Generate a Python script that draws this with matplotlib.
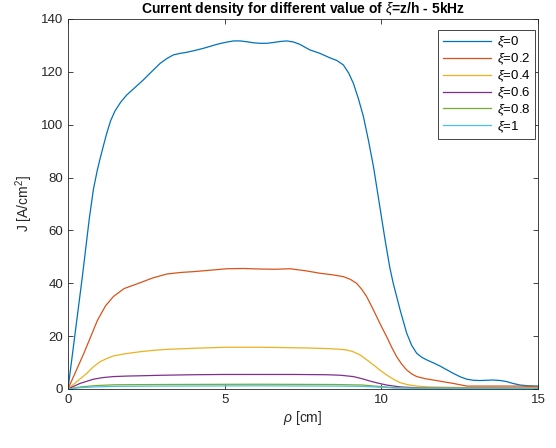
import matplotlib
matplotlib.use("Agg")
import matplotlib.pyplot as plt

plt.rcParams['font.family'] = ['Liberation Sans', 'DejaVu Sans']
plt.rcParams['mathtext.fontset'] = 'custom'
plt.rcParams['mathtext.rm'] = 'Liberation Sans'
plt.rcParams['mathtext.it'] = 'Liberation Sans:italic'

# values
x0 = [0, 0.46, 0.68, 0.81, 0.93, 1.02, 1.13, 1.23, 1.36, 1.5, 1.68, 1.87, 2.15, 2.4,
      2.68, 2.94, 3.15, 3.36, 3.58, 3.79, 4.05, 4.32, 4.55, 4.75, 5.0, 5.28, 5.5, 5.7,
      5.92, 6.13, 6.35, 6.55, 6.78, 6.98, 7.2, 7.4, 7.72, 8.04, 8.36, 8.58, 8.79, 8.96,
      9.11, 9.27, 9.43, 9.59, 9.75, 9.96, 10.12, 10.27, 10.38, 10.6, 10.81, 10.97,
      11.13, 11.29, 11.45, 11.66, 11.87, 12.1, 12.3, 12.52, 12.73, 12.94, 13.15, 13.36,
      13.57, 13.8, 14.0, 14.2, 14.43, 14.7, 15.0]
j0 = [0, 42.7, 64.5, 75.5, 82.5, 87, 92, 96.5, 101.5, 105.2, 108.5, 111.2, 114.2,
      116.9, 120.2, 123.2, 125.0, 126.4, 127.0, 127.4, 128.1, 128.9, 129.7, 130.4,
      131.1, 131.7, 131.7, 131.4, 131.0, 130.8, 130.8, 131.1, 131.5, 131.7, 131.3,
      130.4, 128.3, 127.0, 125.3, 124.3, 122.6, 119.5, 115.6, 109.8, 103.0, 94.0, 84.1,
      68.4, 56.4, 46.0, 40.0, 29.9, 21.1, 16.5, 13.5, 12.0, 11.0, 9.9, 8.7, 7.2, 5.9,
      4.6, 3.7, 3.3, 3.2, 3.3, 3.4, 3.2, 2.8, 2.1, 1.5, 1.2, 1.1]

x2 = [0, 0.51, 0.94, 1.2, 1.45, 1.79, 2.3, 2.7, 3.15, 3.6, 4.0, 4.5, 5.07, 5.6, 6.13,
      6.6, 7.09, 7.6, 8.04, 8.45, 8.79, 9.01, 9.21, 9.37, 9.53, 9.69, 9.85, 10.01,
      10.17, 10.33, 10.49, 10.65, 10.81, 10.97, 11.13, 11.4, 11.66, 12.0, 12.3, 12.73,
      13.57, 14.43, 15.0]
j2 = [0, 13.6, 26, 31.5, 35.0, 38.0, 40.2, 42.0, 43.5, 44.1, 44.4, 44.9, 45.5, 45.6,
      45.4, 45.3, 45.5, 44.7, 43.8, 43.2, 42.5, 41.5, 40.0, 37.8, 35.0, 31.3, 27.4,
      23.5, 19.8, 15.8, 12.2, 9.4, 7.2, 5.7, 4.7, 3.9, 3.4, 2.7, 2.1, 1.1, 1.1, 1.1, 0.9]

x4 = [0, 0.3, 0.6, 0.8, 1.02, 1.25, 1.45, 1.8, 2.3, 2.7, 3.15, 3.6, 4.0, 4.5, 5.07,
      5.6, 6.13, 6.7, 7.19, 7.7, 8.26, 8.6, 8.89, 9.1, 9.32, 9.53, 9.75, 9.96, 10.17,
      10.4, 10.6, 10.85, 11.13, 11.5, 11.9, 13.0, 15.0]
j4 = [0, 3.0, 5.9, 8.3, 10.3, 11.6, 12.5, 13.3, 14.1, 14.6, 15.0, 15.2, 15.4, 15.6,
      15.8, 15.8, 15.8, 15.7, 15.6, 15.5, 15.3, 15.1, 14.8, 14.1, 12.9, 11.1, 9.1,
      7.1, 5.3, 3.6, 2.4, 1.6, 1.1, 0.8, 0.7, 0.5, 0.4]

x6 = [0, 0.38, 0.81, 1.1, 1.45, 1.9, 2.3, 3.0, 4.0, 5.0, 6.13, 7.2, 8.26, 8.7, 9.11,
      9.38, 9.64, 9.9, 10.17, 10.4, 10.6, 10.9, 11.3, 12.0, 15.0]
j6 = [0, 2.1, 3.7, 4.3, 4.7, 4.9, 5.0, 5.2, 5.4, 5.5, 5.5, 5.5, 5.4, 5.2, 4.7,
      3.9, 3.0, 2.2, 1.5, 1.1, 0.8, 0.6, 0.4, 0.3, 0.2]

x8 = [0, 0.4, 0.9, 1.5, 3.0, 6.0, 8.5, 9.4, 9.9, 10.4, 11.0, 15.0]
j8 = [0, 0.8, 1.3, 1.6, 1.7, 1.8, 1.7, 1.5, 1.0, 0.5, 0.3, 0.2]

x10 = [0, 0.4, 0.9, 1.5, 3.0, 6.0, 8.5, 9.4, 9.9, 10.4, 11.0, 15.0]
j10 = [0, 0.5, 0.8, 1.0, 1.1, 1.2, 1.1, 1.0, 0.7, 0.4, 0.3, 0.3]

labels = [r'$\xi$=0', r'$\xi$=0.2', r'$\xi$=0.4', r'$\xi$=0.6', r'$\xi$=0.8', r'$\xi$=1']
cols = ['#0072BD', '#D95319', '#EDB120', '#7E2F8E', '#77AC30', '#4DBEEE']

fig = plt.figure(figsize=(5.56, 4.48), dpi=100)
ax = fig.add_axes([0.1223, 0.1317, 0.8453, 0.8259])

for xs, js, col, label in zip([x0, x2, x4, x6, x8, x10],
                              [j0, j2, j4, j6, j8, j10], cols, labels):
    ax.plot(xs, js, color=col, lw=0.9, label=label)

ax.set_xlim(0, 15)
ax.set_ylim(0, 140)
ax.set_xticks([0, 5, 10, 15])
ax.set_yticks(range(0, 141, 20))
ax.tick_params(direction='in', top=True, right=True, labelsize=9.5,
               colors='#262626', length=3.5, width=0.6)
for s in ax.spines.values():
    s.set_color('#262626')
    s.set_linewidth(0.6)
ax.set_xlabel(r'$\rho$ [cm]', fontsize=10, color='#262626', labelpad=2)
ax.set_ylabel(r'J [A/cm$^2$]', fontsize=10, color='#262626', labelpad=4)
ax.set_title(r'Current density for different value of $\xi$=z/h - 5kHz',
             fontsize=10, fontweight='bold', pad=4)

leg = ax.legend(loc='upper right', bbox_to_anchor=(0.9936, 0.9703), fontsize=9.5,
                fancybox=False, framealpha=1, edgecolor='#262626', borderaxespad=0,
                handlelength=3.7, labelspacing=0.1, borderpad=0.35, handletextpad=0.4)
leg.get_frame().set_linewidth(0.6)

plt.savefig('out.png', dpi=100)
